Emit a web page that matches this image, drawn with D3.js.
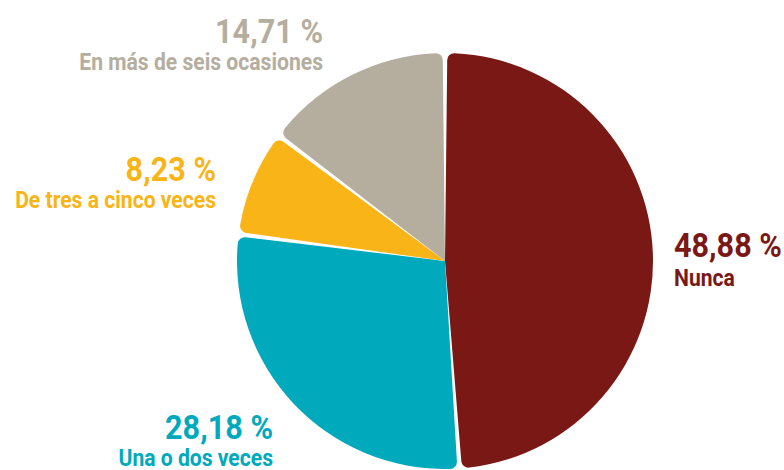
<!DOCTYPE html>
<html>
<head>
<meta charset="utf-8">
<script src="https://cdnjs.cloudflare.com/ajax/libs/d3/7.8.5/d3.min.js"></script>
<style>
  body { margin: 0; background: #fff; }
  text { font-family: Roboto, "Liberation Sans", sans-serif; font-weight: bold; }
</style>
</head>
<body>
<div id="chart"></div>
<script>
// data, clockwise from 12 o'clock
var categories = ["Nunca", "Una o dos veces", "De tres a cinco veces", "En más de seis ocasiones"];
var values = [48.88, 28.18, 8.23, 14.71];
var valueLabels = ["48,88 %", "28,18 %", "8,23 %", "14,71 %"];
var colors = ["#7a1815", "#00a9bc", "#f9b418", "#b5ae9f"];

var width = 784, height = 470;
var cx = 445, cy = 261, radius = 208;

var svg = d3.select("#chart")
  .append("svg")
    .attr("width", width)
    .attr("height", height);

var g = svg.append("g")
  .attr("transform", "translate(" + cx + "," + cy + ")");

var pie = d3.pie()
  .sort(null)
  .value(function(d) { return d; });

var arc = d3.arc()
  .innerRadius(0)
  .outerRadius(radius)
  .cornerRadius(7)
  .padAngle(0.022);

var arcs = pie(values);

g.selectAll("path")
  .data(arcs)
  .enter().append("path")
    .attr("d", arc)
    .attr("fill", function(d, i) { return colors[i]; });

// label placement (anchor point + alignment) for each slice
var labelPos = [
  {x: 674, y: 257, anchor: "start"},
  {x: 273, y: 439, anchor: "end"},
  {x: 216, y: 181, anchor: "end"},
  {x: 323, y: 43, anchor: "end"}
];

// condensed look: squeeze the text horizontally
var labels = svg.selectAll("g.label")
  .data(arcs)
  .enter().append("g")
    .attr("class", "label")
    .attr("transform", function(d, i) { return "translate(" + labelPos[i].x + "," + labelPos[i].y + ")"; })
    .attr("text-anchor", function(d, i) { return labelPos[i].anchor; })
    .attr("fill", function(d, i) { return colors[i]; });

labels.append("text")
  .attr("transform", "scale(0.9,1)")
  .style("font-size", "34px")
  .text(function(d, i) { return valueLabels[i]; });

labels.append("text")
  .attr("transform", function(d, i) { return "translate(0," + (i == 0 ? 29 : 27) + ") scale(0.88,1)"; })
  .style("font-size", "24px")
  .text(function(d, i) { return categories[i]; });
</script>
</body>
</html>
